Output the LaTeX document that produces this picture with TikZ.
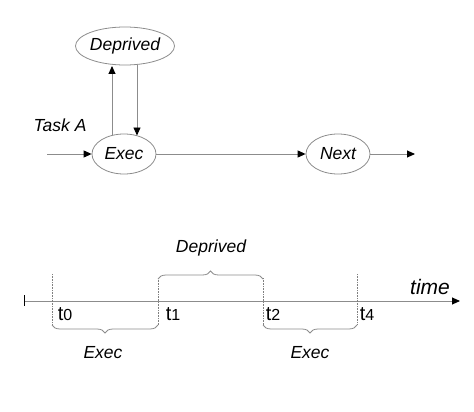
\documentclass[tikz,border=0pt]{standalone}
\usepackage{fontspec}
\setmainfont{Liberation Sans}
\usetikzlibrary{shapes.geometric,arrows.meta,decorations.pathreplacing}
\definecolor{linegray}{gray}{0.55}
\definecolor{dotgray}{gray}{0.5}
\tikzset{
  st/.style={draw=linegray, ellipse, inner sep=0pt, line width=0.8pt, font=\fontsize{17.5}{17.5}\selectfont\itshape},
  arr/.style={draw=linegray, line width=0.9pt, -{Triangle[length=8pt,width=7pt,black]}},
  lbl/.style={font=\fontsize{17.5}{17.5}\selectfont\itshape, inner sep=0pt},
  tl/.style={font=\fontsize{20}{20}\selectfont, inner sep=0pt},
  dotl/.style={draw=dotgray, densely dotted, line width=0.6pt},
  br/.style={draw=linegray, line width=0.8pt, decorate, decoration={brace, amplitude=8pt}}
}
\begin{document}
\begin{tikzpicture}[x=1pt,y=-1pt]
\useasboundingbox (0,0) rectangle (474,412);
% top state diagram
\node[st, minimum width=75pt, minimum height=38pt] (dep) at (125,46) {Deprived};
\node[st, minimum width=64pt, minimum height=40pt] (exec) at (124,154) {Exec};
\node[st, minimum width=64pt, minimum height=40pt] (next) at (338,154) {Next};
\node[lbl] (taska) at (60,125) {Task A};
\coordinate (in) at (47,154);
\coordinate (out) at (415,154);
\draw[arr] (in) -- (exec);
\draw[arr] (exec) -- (next);
\draw[arr] (next) -- (out);
\draw[arr] (exec.north -| 112,0) ++(0,1) -- (112,66);
\draw[arr] (137,65) -- (137,135.5);
% timeline
\coordinate (ax0) at (24,301);
\coordinate (ax1) at (460,301);
\draw[arr] (ax0) -- (ax1);
\draw[draw=black, line width=0.8pt] (24,295) -- (24,306);
\node[font=\fontsize{21}{21}\selectfont\itshape, inner sep=0pt] (time) at (430,287) {time};
\draw[dotl] (52,274) -- (52,325);
\draw[dotl] (158,278) -- (158,325);
\draw[dotl] (263,278) -- (263,325);
\draw[dotl] (357,274) -- (357,325);
\draw[br] (158,279) -- (263,279);
\draw[br] (357,325) -- (263,325);
\draw[br] (158,325) -- (52,325);
\node[tl] (t0) at (65,314) {t{\fontsize{16}{16}\selectfont 0}};
\node[tl] (t1) at (173,314) {t{\fontsize{16}{16}\selectfont 1}};
\node[tl] (t2) at (273,314) {t{\fontsize{16}{16}\selectfont 2}};
\node[tl] (t4) at (367,314) {t{\fontsize{16}{16}\selectfont 4}};
\node[lbl] (dep2) at (211,248) {Deprived};
\node[lbl] (ex1) at (103,353) {Exec};
\node[lbl] (ex2) at (310,353) {Exec};
\end{tikzpicture}
\end{document}
